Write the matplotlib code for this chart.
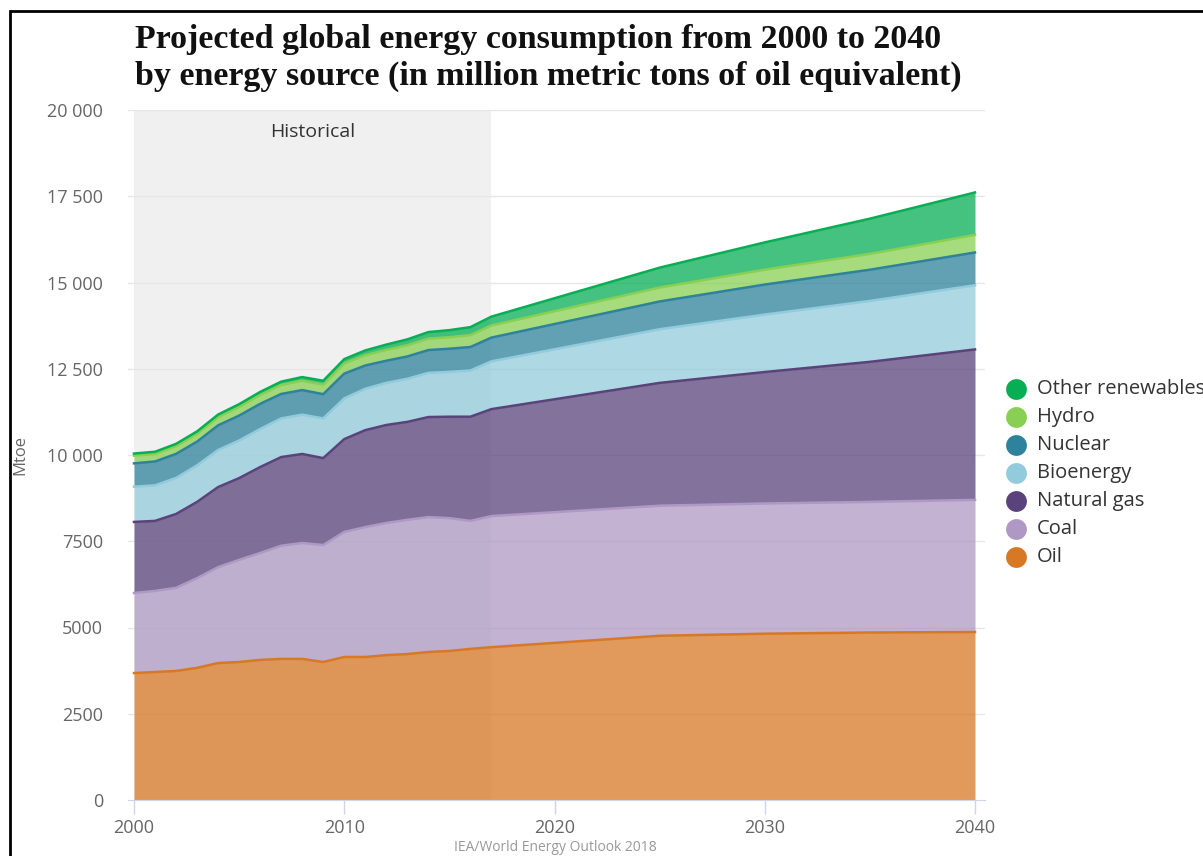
import matplotlib.pyplot as plt
from matplotlib.lines import Line2D
from matplotlib.patches import Rectangle

# Mtoe by source, annual history to 2017 then the projection years
years = list(range(2000, 2018)) + [2025, 2030, 2035, 2040]
oil = [3680, 3710, 3740, 3830, 3970, 4000, 4060, 4090, 4090, 4000, 4145, 4145,
       4200, 4230, 4290, 4320, 4380, 4430, 4760, 4820, 4855, 4870]
coal = [2320, 2350, 2410, 2600, 2780, 2960, 3100, 3280, 3360, 3390, 3625, 3765,
        3830, 3890, 3910, 3850, 3710, 3800, 3770, 3775, 3785, 3830]
gas = [2060, 2030, 2140, 2210, 2320, 2370, 2490, 2570, 2580, 2520, 2690, 2810,
       2840, 2840, 2900, 2940, 3020, 3100, 3560, 3810, 4060, 4360]
bioenergy = [1022, 1030, 1045, 1060, 1075, 1090, 1105, 1120, 1140, 1150, 1180, 1200,
             1220, 1250, 1280, 1300, 1340, 1385, 1555, 1665, 1765, 1860]
nuclear = [676, 692, 697, 687, 714, 722, 728, 709, 712, 703, 719, 674,
           642, 646, 662, 670, 680, 688, 805, 870, 905, 950]
hydro = [225, 220, 225, 227, 238, 251, 258, 262, 273, 276, 296, 300,
         315, 325, 333, 334, 346, 353, 405, 432, 460, 510]
other_renewables = [60, 62, 66, 70, 75, 80, 87, 95, 104, 113, 124, 137,
                    153, 170, 188, 205, 230, 255, 575, 790, 1020, 1230]

names = ['Oil', 'Coal', 'Natural gas', 'Bioenergy', 'Nuclear', 'Hydro', 'Other renewables']
series = [oil, coal, gas, bioenergy, nuclear, hydro, other_renewables]
colors = ['#d77825', '#af99c4', '#5a437a', '#92cbdb', '#2e829b', '#88cf53', '#07ae54']

y_ticks = [0, 2500, 5000, 7500, 10000, 12500, 15000, 17500, 20000]
y_labels = ['0', '2500', '5000', '7500', '10 000', '12 500', '15 000', '17 500', '20 000']
x_ticks = [2000, 2010, 2020, 2030, 2040]
historical_end = 2017

W, H = 1203, 856
fig = plt.figure(figsize=(W / 100, H / 100), dpi=100)
ax = fig.add_axes([128 / W, 1 - 800 / H, 857 / W, 690 / H])

ax.axvspan(2000, historical_end, color='#f0f0f0', zorder=0, lw=0)
for t in y_ticks[1:]:
    ax.axhline(t, color='#e6e6e6', lw=1, zorder=0.5)

base = [0] * len(years)
for name, vals, c in zip(names, series, colors):
    top = [b + v for b, v in zip(base, vals)]
    ax.fill_between(years, base, top, color=c, alpha=0.75, lw=0, zorder=1)
    ax.plot(years, top, color=c, lw=1.8, zorder=2, solid_joinstyle='round')
    base = top

ax.set_xlim(2000 - 6 / 21.025, 2040 + 10 / 21.025)
ax.set_ylim(0, 20000)
ax.set_yticks(y_ticks)
ax.set_yticklabels(y_labels)
ax.set_xticks(x_ticks)
ax.tick_params(axis='y', length=0, pad=18, labelsize=13, labelcolor='#666666')
ax.tick_params(axis='x', length=10, width=1, color='#ccd6eb', pad=4,
               labelsize=13, labelcolor='#666666')
for lab in ax.get_xticklabels() + ax.get_yticklabels():
    lab.set_fontfamily('Open Sans')
for s in ['top', 'right', 'left']:
    ax.spines[s].set_visible(False)
ax.spines['bottom'].set_color('#ccd6eb')
ax.set_ylabel('Mtoe', fontsize=12, color='#666666', family='Open Sans')
ax.yaxis.set_label_coords((28 - 128) / 857, 0.5)

ax.text(2000 + (historical_end - 2000) / 2, 19360, 'Historical', ha='center', va='center',
        fontsize=14, color='#333333', family='Open Sans')

fig.text(135 / W, 1 - 24 / H,
         'Projected global energy consumption from 2000 to 2040\n'
         'by energy source (in million metric tons of oil equivalent)',
         ha='left', va='top', fontsize=24.5, fontweight='bold',
         family='Liberation Serif', linespacing=1.22, color='#111111')

fig.text(555 / W, 1 - 855 / H, 'IEA/World Energy Outlook 2018', ha='center', va='bottom',
         fontsize=10, color='#999999', family='Open Sans')

# legend, top entry first
for i, (name, c) in enumerate(zip(names[::-1], colors[::-1])):
    y = 1 - (389 + 28 * i) / H
    fig.add_artist(Line2D([1016 / W], [y], marker='o', markersize=15,
                          color=c, markeredgewidth=0, transform=fig.transFigure))
    fig.text(1037 / W, y, name, ha='left', va='center', fontsize=14.5,
             color='#333333', family='Open Sans')

# outer frame
fig.add_artist(Rectangle((10 / W, -0.1), 1.2, 1 - 11 / H + 0.1, fill=False,
                         edgecolor='black', lw=2, transform=fig.transFigure))

fig.savefig('out.png', dpi=100, facecolor='white')
